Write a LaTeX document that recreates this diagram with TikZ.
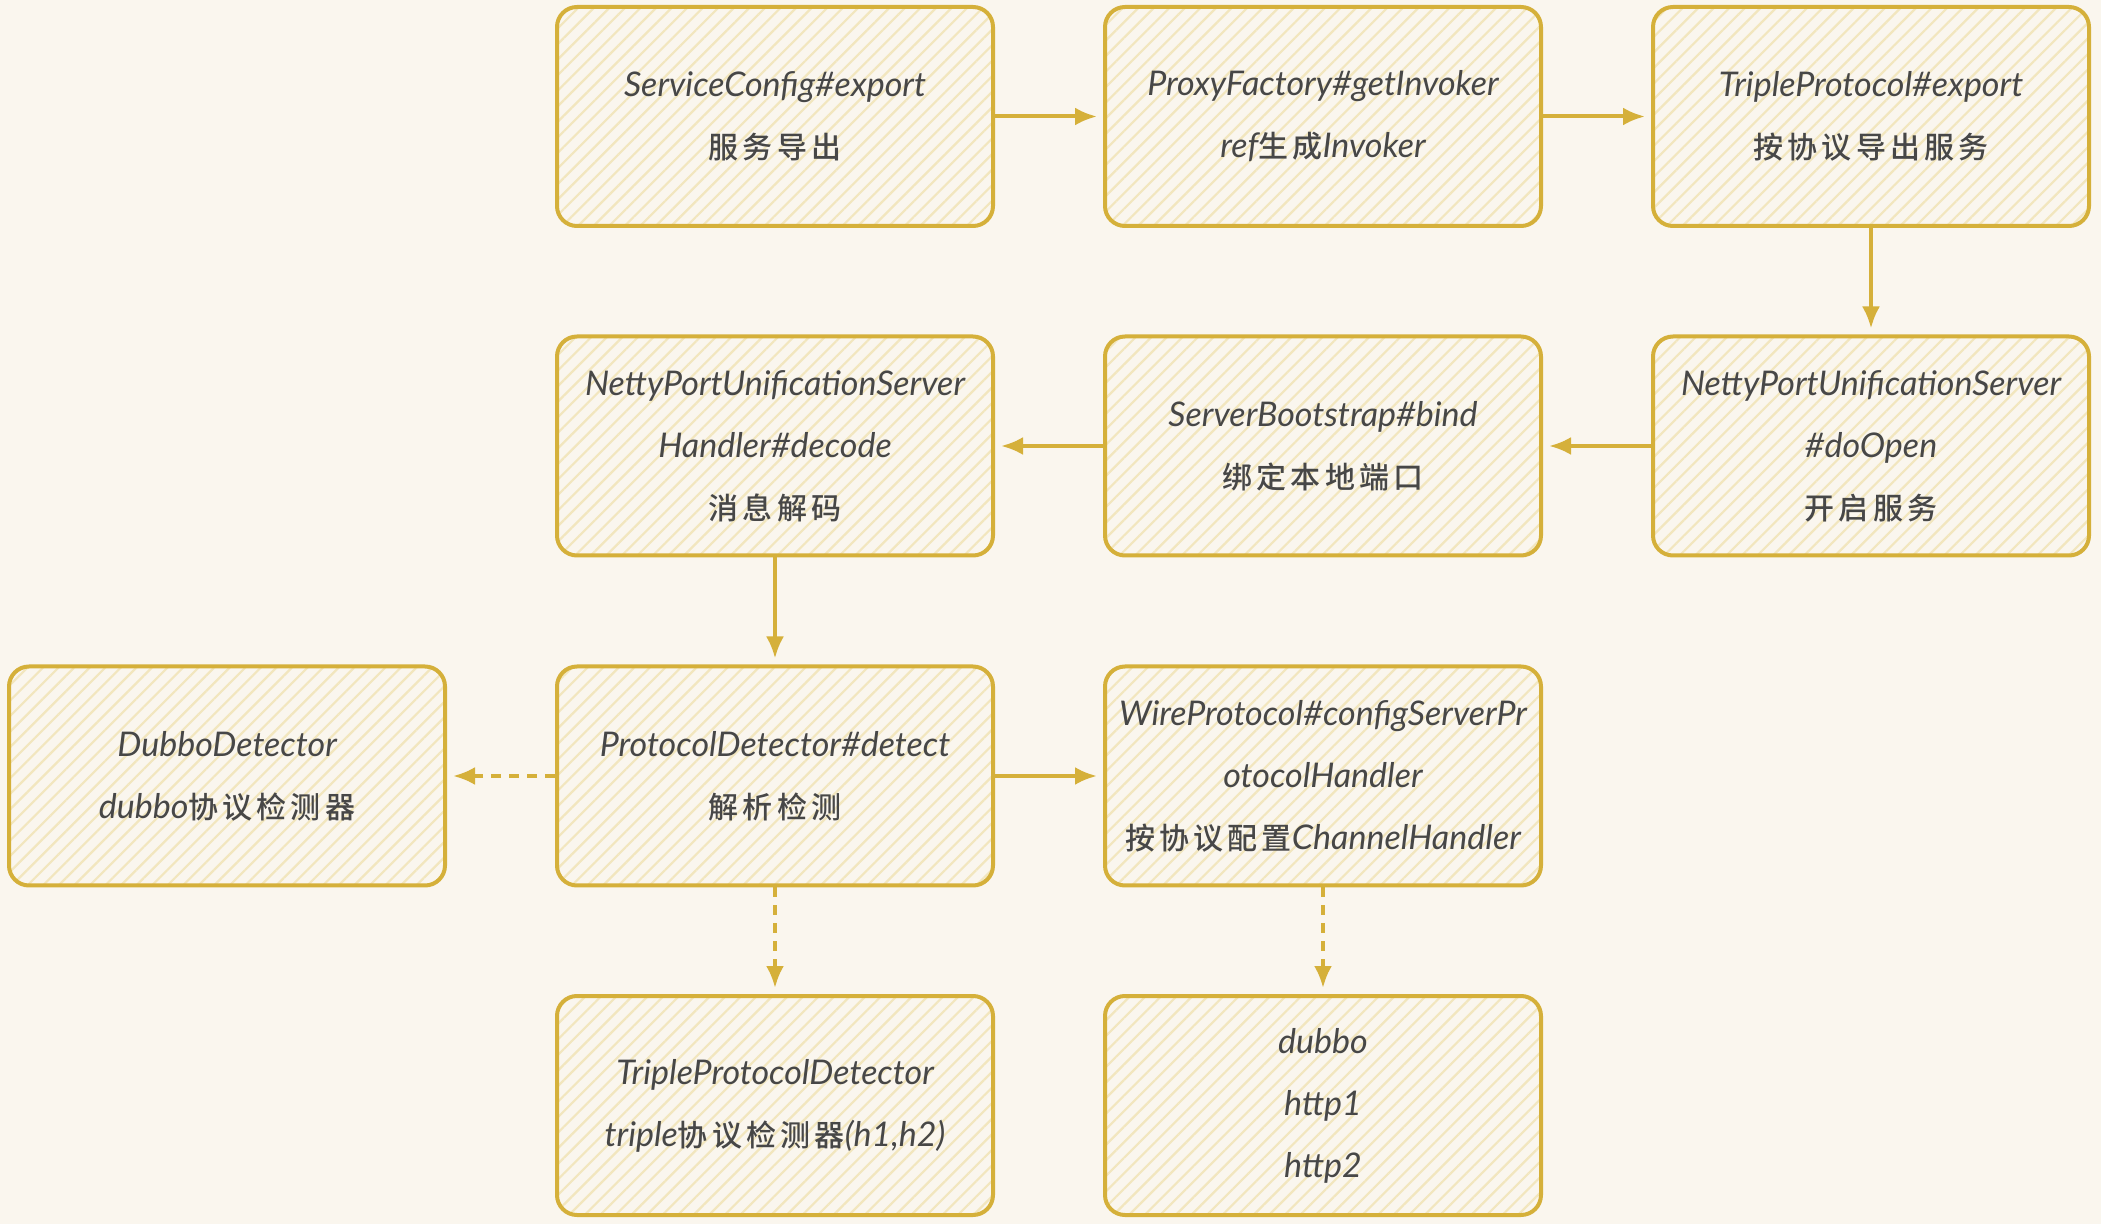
\documentclass[tikz,border=0pt]{standalone}
\usepackage{fontspec}
\setmainfont{Lato}
\newfontfamily\cjk[LetterSpace=14]{Noto Sans CJK SC Medium}
\newcommand\zh[1]{{\cjk\upshape\fontsize{15}{31}\selectfont #1}}
\usetikzlibrary{patterns.meta,arrows.meta}
\definecolor{bg}{HTML}{FAF6EE}
\definecolor{gold}{HTML}{D5B03A}
\definecolor{hatch}{HTML}{F2E6BE}
\definecolor{txt}{HTML}{474747}
\tikzset{
  box/.style={draw=gold, line width=2pt, rounded corners=10pt,
    minimum width=218pt, minimum height=109.5pt, inner sep=0pt,
    preaction={fill=bg},
    pattern={Lines[angle=45,distance=5.5pt,line width=1.1pt]}, pattern color=hatch,
    align=center, text=txt, font=\itshape\fontsize{17}{31}\selectfont},
  arr/.style={draw=gold, line width=2pt, -{Latex[length=11pt,width=9pt]}, shorten >=3pt},
  darr/.style={arr, dash pattern=on 5pt off 4pt}
}
\begin{document}
\begin{tikzpicture}[x=0.5pt,y=-0.5pt]
\fill[bg] (0,0) rectangle (2101,1224);
\useasboundingbox (0,0) rectangle (2101,1224);
\node[box] (a1) at (775,116.5) {ServiceConfig\#export\\\zh{服务导出}};
\node[box] (a2) at (1323,116.5) {ProxyFactory\#getInvoker\\ref\zh{生成}Invoker};
\node[box] (a3) at (1871,116.5) {TripleProtocol\#export\\\zh{按协议导出服务}};
\node[box] (b3) at (1871,446) {NettyPortUnificationServer\\\#doOpen\\\zh{开启服务}};
\node[box] (b2) at (1323,446) {ServerBootstrap\#bind\\\zh{绑定本地端口}};
\node[box] (b1) at (775,446) {NettyPortUnificationServer\\Handler\#decode\\\zh{消息解码}};
\node[box] (c0) at (227,776) {DubboDetector\\dubbo\zh{协议检测器}};
\node[box] (c1) at (775,776) {ProtocolDetector\#detect\\\zh{解析检测}};
\node[box] (c2) at (1323,776) {WireProtocol\#configServerPr\\otocolHandler\\\zh{按协议配置}ChannelHandler};
\node[box] (d1) at (775,1105.5) {TripleProtocolDetector\\triple\zh{协议检测器}(h1,h2)};
\node[box] (d2) at (1323,1105.5) {dubbo\\http1\\http2};
\draw[arr] (a1.east) -- (a2.west);
\draw[arr] (a2.east) -- (a3.west);
\draw[arr] (a3.south) -- (b3.north);
\draw[arr] (b3.west) -- (b2.east);
\draw[arr] (b2.west) -- (b1.east);
\draw[arr] (b1.south) -- (c1.north);
\draw[darr] (c1.west) -- (c0.east);
\draw[arr] (c1.east) -- (c2.west);
\draw[darr] (c1.south) -- (d1.north);
\draw[darr] (c2.south) -- (d2.north);
\end{tikzpicture}
\end{document}
